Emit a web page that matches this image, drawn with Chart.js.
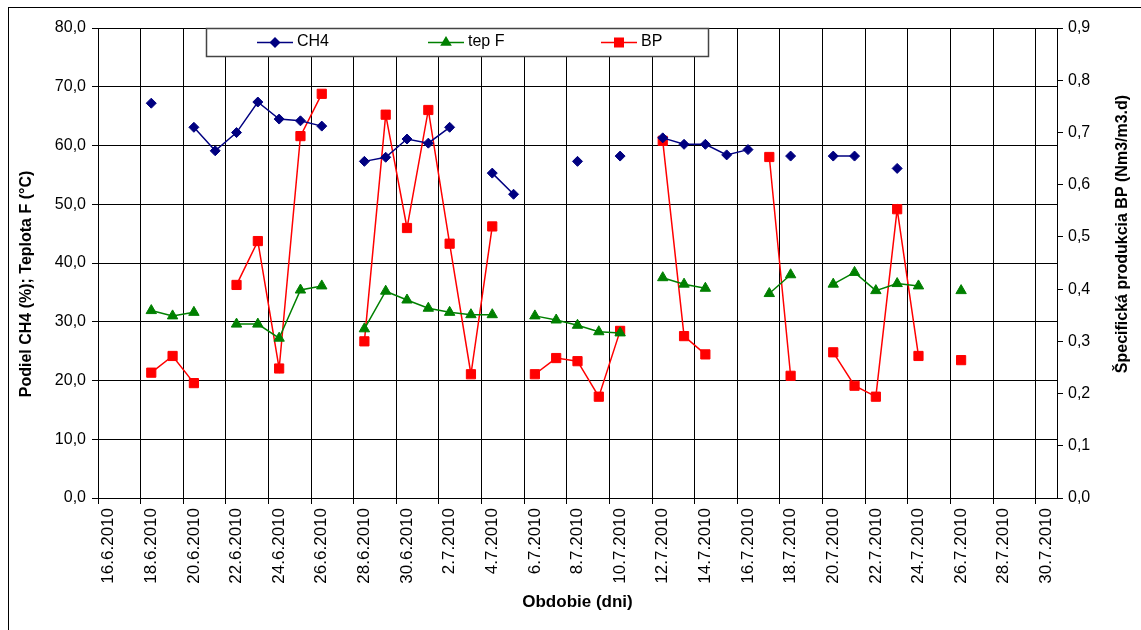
<!DOCTYPE html>
<html>
<head>
<meta charset="utf-8">
<script src="https://cdn.jsdelivr.net/npm/chart.js@4.4.1/dist/chart.umd.min.js"></script>
<style>
    body { margin: 0; background: #fff; }
    #wrap { width: 1141px; height: 630px; position: relative; }
</style>
</head>
<body>
<div id="wrap"><canvas id="bpChart"></canvas></div>
<script>
// dni 16.6.2010 - 30.7.2010
const days = [
    '16.6.2010', '17.6.2010', '18.6.2010', '19.6.2010', '20.6.2010', '21.6.2010', '22.6.2010',
    '23.6.2010', '24.6.2010', '25.6.2010', '26.6.2010', '27.6.2010', '28.6.2010', '29.6.2010',
    '30.6.2010', '1.7.2010', '2.7.2010', '3.7.2010', '4.7.2010', '5.7.2010', '6.7.2010',
    '7.7.2010', '8.7.2010', '9.7.2010', '10.7.2010', '11.7.2010', '12.7.2010', '13.7.2010',
    '14.7.2010', '15.7.2010', '16.7.2010', '17.7.2010', '18.7.2010', '19.7.2010', '20.7.2010',
    '21.7.2010', '22.7.2010', '23.7.2010', '24.7.2010', '25.7.2010', '26.7.2010', '27.7.2010',
    '28.7.2010', '29.7.2010', '30.7.2010'
];

const ch4 = [
    null, null, 67.2, null, 63.1, 59.1, 62.2, 67.4, 64.5, 64.2, 63.3, null, 57.3, 58.0, 61.1,
    60.4, 63.1, null, 55.3, 51.7, null, null, 57.3, null, 58.2, null, 61.3, 60.2, 60.2, 58.4,
    59.3, null, 58.2, null, 58.2, 58.2, null, 56.1, null, null, null, null, null, null, null
];

const tepF = [
    null, null, 31.9, 31.0, 31.6, null, 29.6, 29.6, 27.2, 35.4, 36.1, null, 28.8, 35.2, 33.7,
    32.3, 31.6, 31.2, 31.2, null, 31.0, 30.3, 29.4, 28.3, 28.1, null, 37.5, 36.4, 35.7, null,
    null, 34.8, 38.0, null, 36.4, 38.4, 35.3, 36.5, 36.1, null, 35.3, null, null, null, null
];

const bp = [
    null, null, 0.240, 0.272, 0.220, null, 0.408, 0.492, 0.248, 0.693, 0.774, null, 0.300, 0.734, 0.517,
    0.743, 0.487, 0.237, 0.520, null, 0.237, 0.268, 0.262, 0.194, 0.320, null, 0.684, 0.310, 0.275, null,
    null, 0.653, 0.234, null, 0.279, 0.215, 0.194, 0.553, 0.272, null, 0.264, null, null, null, null
];

const leftTicks = [0, 10, 20, 30, 40, 50, 60, 70, 80];
const rightTicks = [0, 0.1, 0.2, 0.3, 0.4, 0.5, 0.6, 0.7, 0.8, 0.9];

const FONT = "'Liberation Sans', Arial, sans-serif";

function comma(v) {
    return v.toFixed(1).replace('.', ',');
}

function drawMarker(ctx, style, x, y, color) {
    ctx.fillStyle = color;
    ctx.beginPath();
    if (style === 'rectRot') {
        ctx.moveTo(x - 5.5, y); ctx.lineTo(x, y - 5.5); ctx.lineTo(x + 5.5, y); ctx.lineTo(x, y + 5.5);
    } else if (style === 'triangle') {
        ctx.moveTo(x, y - 6.5); ctx.lineTo(x + 5.8, y + 3.3); ctx.lineTo(x - 5.8, y + 3.3);
    } else {
        ctx.rect(x - 5, y - 5, 10, 10);
    }
    ctx.closePath();
    ctx.fill();
}

const extras = {
    id: 'extras',
    beforeDraw(chart) {
        const ctx = chart.ctx;
        ctx.save();
        ctx.strokeStyle = '#000';
        ctx.lineWidth = 1;
        ctx.strokeRect(8.5, 7.5, 1300, 800);
        ctx.restore();
    },
    afterDraw(chart) {
        const ctx = chart.ctx;
        ctx.save();

        // legenda
        ctx.fillStyle = '#fff';
        ctx.fillRect(206, 28, 502, 29);
        ctx.strokeStyle = '#444';
        ctx.lineWidth = 1.5;
        ctx.strokeRect(206.5, 28.5, 502, 28);
        const items = [
            { x: 257, text: 'CH4', ds: 0 },
            { x: 428, text: 'tep F', ds: 1 },
            { x: 601, text: 'BP', ds: 2 }
        ];
        ctx.font = '16px ' + FONT;
        ctx.textBaseline = 'middle';
        items.forEach(function (it) {
            const ds = chart.data.datasets[it.ds];
            ctx.strokeStyle = ds.borderColor;
            ctx.lineWidth = 1.5;
            ctx.beginPath();
            ctx.moveTo(it.x, 42.5);
            ctx.lineTo(it.x + 36, 42.5);
            ctx.stroke();
            drawMarker(ctx, ds.pointStyle, it.x + 18, 42.5, ds.pointBackgroundColor);
            ctx.fillStyle = '#000';
            ctx.fillText(it.text, it.x + 40, 42);
        });

        // nazvy osi
        ctx.font = 'bold 16px ' + FONT;
        ctx.fillStyle = '#000';
        ctx.textAlign = 'center';
        ctx.translate(27, 284);
        ctx.rotate(-Math.PI / 2);
        ctx.fillText('Podiel CH4 (%); Teplota F (°C)', 0, 0);
        ctx.setTransform(1, 0, 0, 1, 0, 0);
        ctx.translate(1123, 234);
        ctx.rotate(-Math.PI / 2);
        ctx.fillText('Špecifická produkcia BP (Nm3/m3.d)', 0, 0);
        ctx.restore();
    }
};

document.addEventListener('DOMContentLoaded', function () {
    const ctx = document.getElementById('bpChart').getContext('2d');
    Chart.defaults.font.family = FONT;
    Chart.defaults.color = '#000';

    new Chart(ctx, {
        type: 'line',
        data: {
            labels: days,
            datasets: [
                {
                    label: 'CH4',
                    data: ch4,
                    yAxisID: 'y',
                    borderColor: '#000080',
                    backgroundColor: '#000080',
                    pointBackgroundColor: '#000080',
                    pointBorderColor: '#000080',
                    pointStyle: 'rectRot',
                    pointRadius: 5,
                    pointBorderWidth: 1,
                    borderWidth: 1.5,
                    tension: 0,
                    spanGaps: false
                },
                {
                    label: 'tep F',
                    data: tepF,
                    yAxisID: 'y',
                    borderColor: '#008000',
                    backgroundColor: '#008000',
                    pointBackgroundColor: '#008000',
                    pointBorderColor: '#008000',
                    pointStyle: 'triangle',
                    pointRadius: 6,
                    pointBorderWidth: 1,
                    borderWidth: 1.5,
                    tension: 0,
                    spanGaps: false
                },
                {
                    label: 'BP',
                    data: bp,
                    yAxisID: 'y2',
                    borderColor: '#ff0000',
                    backgroundColor: '#ff0000',
                    pointBackgroundColor: '#ff0000',
                    pointBorderColor: '#ff0000',
                    pointStyle: 'rect',
                    pointRadius: 6.5,
                    pointBorderWidth: 1,
                    borderWidth: 1.5,
                    tension: 0,
                    spanGaps: false
                }
            ]
        },
        options: {
            responsive: true,
            maintainAspectRatio: false,
            animation: false,
            layout: { padding: { top: 28, left: 0, right: 0, bottom: 0 } },
            plugins: {
                legend: { display: false },
                tooltip: { enabled: false }
            },
            scales: {
                x: {
                    type: 'category',
                    offset: true,
                    afterFit: function (s) { s.height = 132; },
                    grid: {
                        offset: true,
                        color: function (c) { return c.index % 2 === 0 ? '#000' : 'rgba(0,0,0,0)'; },
                        lineWidth: 1,
                        tickLength: 6
                    },
                    border: { color: '#000', width: 1 },
                    ticks: {
                        autoSkip: false,
                        maxRotation: 90,
                        minRotation: 90,
                        padding: 4,
                        font: { size: 17 },
                        callback: function (val, idx) {
                            return idx % 2 === 0 ? this.getLabelForValue(val) : '';
                        }
                    },
                    title: {
                        display: true,
                        text: 'Obdobie (dni)',
                        font: { size: 17, weight: 'bold' },
                        padding: { top: 4, bottom: 17 }
                    }
                },
                y: {
                    position: 'left',
                    min: 0,
                    max: 80,
                    afterFit: function (s) { s.width = 98; },
                    afterBuildTicks: function (s) { s.ticks = leftTicks.map(v => ({ value: v })); },
                    grid: { color: '#000', lineWidth: 1, tickLength: 6 },
                    border: { color: '#000', width: 1 },
                    ticks: {
                        padding: 6,
                        font: { size: 16 },
                        callback: function (v) { return comma(v); }
                    }
                },
                y2: {
                    position: 'right',
                    min: 0,
                    max: 0.9,
                    afterFit: function (s) { s.width = 84; },
                    afterBuildTicks: function (s) { s.ticks = rightTicks.map(v => ({ value: v })); },
                    grid: { drawOnChartArea: false, color: '#000', tickLength: 6 },
                    border: { color: '#000', width: 1 },
                    ticks: {
                        padding: 5,
                        font: { size: 16 },
                        callback: function (v) { return comma(v); }
                    }
                }
            }
        },
        plugins: [extras]
    });
});
</script>
</body>
</html>
